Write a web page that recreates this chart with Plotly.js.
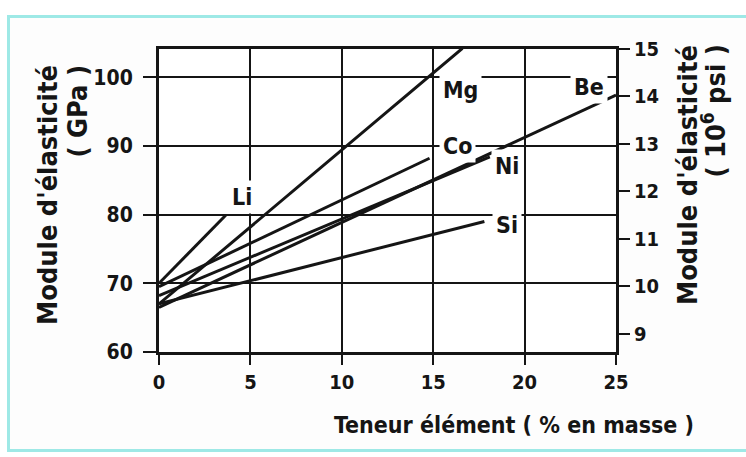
<!DOCTYPE html>
<html>
<head>
<meta charset="utf-8">
<script src="https://cdn.plot.ly/plotly-3.0.1.min.js"></script>
<style>
  html, body { margin: 0; padding: 0; background: #ffffff; }
  #wrap { position: relative; width: 746px; height: 457px; overflow: hidden; background: #ffffff; }
  #frame { position: absolute; left: 7px; top: 15px; width: 760px; height: 437px;
           border: 3px solid #9ee9e6; border-right: none; background: #fdfdfd; box-sizing: border-box; }
  #chart { position: absolute; left: 0; top: 0; width: 746px; height: 457px; }
</style>
</head>
<body>
<div id="wrap">
  <div id="frame"></div>
  <div id="chart"></div>
</div>
<script>
// ---- data ----
const elements = ['Li', 'Mg', 'Co', 'Ni', 'Be', 'Si'];
const contentStart = [0, 0, 0, 0, 0, 0];          // % en masse
const contentEnd   = [3.65, 16.6, 14.8, 18.1, 25, 17.8];
const modulusStart = [70.0, 67.0, 69.5, 68.2, 66.5, 67.0]; // GPa
const modulusEnd   = [79.9, 104.2, 88.2, 88.4, 97.4, 79.0];
const labelX = [4.55, 16.5, 16.35, 19.05, 23.5, 19.05];
const labelY = [82.5, 98.1, 90.0, 87.1, 98.5, 78.5];
const xTicks = [0, 5, 10, 15, 20, 25];
const gpaTicks = [60, 70, 80, 90, 100];
const psiTicks = [9, 10, 11, 12, 13, 14, 15];

const FONT = 'DejaVu Sans Condensed, DejaVu Sans, sans-serif';
const INK = '#151515';

const traces = elements.map((el, i) => ({
  type: 'scatter', mode: 'lines', name: el,
  x: [contentStart[i], contentEnd[i]],
  y: [modulusStart[i], modulusEnd[i]],
  line: { color: INK, width: 3 },
  showlegend: false, hoverinfo: 'skip'
}));
// invisible helper so the secondary (psi) axis is drawn
traces.push({
  type: 'scatter', mode: 'lines', yaxis: 'y2',
  x: [xTicks[0], xTicks[xTicks.length - 1]],
  y: [psiTicks[0], psiTicks[psiTicks.length - 1]],
  line: { width: 0, color: 'rgba(0,0,0,0)' }, opacity: 0,
  showlegend: false, hoverinfo: 'skip'
});

const annotations = elements.map((el, i) => ({
  x: labelX[i], y: labelY[i], xref: 'x', yref: 'y',
  text: el, showarrow: false, bgcolor: '#ffffff',
  font: { family: FONT, size: 23, color: INK, weight: 'bold' },
  borderpad: 3
}));

function titleLine(text, x, y) {
  return {
    xref: 'paper', yref: 'paper', x: x, y: y, xanchor: 'center', yanchor: 'top',
    text: text, textangle: -90, showarrow: false,
    font: { family: FONT, size: 27, color: INK, weight: 'bold' }
  };
}
annotations.push(titleLine("Module d'élasticité", -0.2429, 0.9538));
annotations.push(titleLine('( GPa )', -0.1794, 0.9538));
annotations.push(titleLine("Module d'élasticité", 1.1554, 1.0198));
annotations.push(titleLine('( 10<sup>6</sup> psi )', 1.2123, 1.0198));
annotations.push({
  xref: 'paper', yref: 'paper', x: 0.777, y: -0.241, xanchor: 'center', yanchor: 'middle',
  text: 'Teneur élément ( % en masse )', showarrow: false,
  font: { family: FONT, size: 23, color: INK, weight: 'bold' }
});

const layout = {
  width: 746, height: 457,
  margin: { l: 159, r: 130, t: 49, b: 105 },
  paper_bgcolor: 'rgba(0,0,0,0)', plot_bgcolor: '#ffffff',
  font: { family: FONT, color: INK, size: 20 },
  xaxis: {
    range: [0, 25], tickvals: xTicks, ticktext: xTicks.map(String),
    showgrid: true, gridcolor: INK, gridwidth: 2,
    showline: true, linecolor: INK, linewidth: 3, mirror: true,
    ticks: 'outside', ticklen: 10, tickwidth: 2, tickcolor: INK,
    zeroline: false, fixedrange: true,
    tickfont: { family: FONT, size: 20, color: INK, weight: 'bold' }
  },
  yaxis: {
    range: [60, 104.1], tickvals: gpaTicks, ticktext: gpaTicks.map(String),
    showgrid: true, gridcolor: INK, gridwidth: 2,
    showline: true, linecolor: INK, linewidth: 3,
    ticks: 'outside', ticklen: 13, tickwidth: 2, tickcolor: INK,
    ticklabelstandoff: 6,
    zeroline: false, fixedrange: true,
    tickfont: { family: FONT, size: 21, color: INK, weight: 'bold' }
  },
  yaxis2: {
    overlaying: 'y', side: 'right', range: [8.62, 15.0],
    tickvals: psiTicks, ticktext: psiTicks.map(String),
    showgrid: false, showline: true, linecolor: INK, linewidth: 3,
    ticks: 'outside', ticklen: 11, tickwidth: 2, tickcolor: INK,
    zeroline: false, fixedrange: true,
    tickfont: { family: FONT, size: 20, color: INK, weight: 'bold' }
  },
  annotations: annotations,
  showlegend: false
};

Plotly.newPlot('chart', traces, layout, { staticPlot: true, displayModeBar: false });
</script>
</body>
</html>
